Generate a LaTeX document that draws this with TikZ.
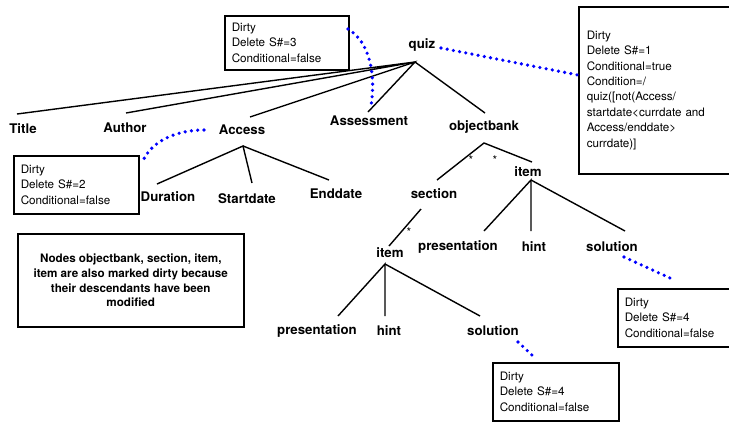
\documentclass[tikz,border=0pt]{standalone}
\usepackage{fontspec}
\setmainfont{TeX Gyre Heros}
\begin{document}
\begin{tikzpicture}[x=1bp,y=-1bp,
  lbl/.style={font=\fontsize{13.3}{16}\selectfont\bfseries, inner sep=0pt},
  edge/.style={line width=1.4bp, black},
  dirtybox/.style={draw, line width=1.5bp, anchor=north west, inner xsep=7bp, inner ysep=0pt, align=left, font=\fontsize{11.7}{15.5}\selectfont},
  notebox/.style={draw, line width=1.5bp, anchor=north west, inner sep=0pt, align=center, font=\fontsize{11.7}{15}\selectfont\bfseries},
  link/.style={blue, line width=3.6bp, line cap=round, dash pattern=on 0pt off 6.3bp},
  starlbl/.style={font=\fontsize{12}{12}\selectfont, inner sep=0pt}]
\clip (0,0) rectangle (729,423);
% labels
\node[lbl] (quiz) at (422,45) {quiz};
\node[lbl] (title) at (23,129) {Title};
\node[lbl] (author) at (125,128) {Author};
\node[lbl] (access) at (242,130) {Access};
\node[lbl] (assess) at (369,121) {Assessment};
\node[lbl] (objbank) at (484,127) {objectbank};
\node[lbl] (duration) at (168,197) {Duration};
\node[lbl] (startdate) at (247,199) {Startdate};
\node[lbl] (enddate) at (336,194) {Enddate};
\node[lbl] (section) at (434,194) {section};
\node[lbl] (itemR) at (528,172) {item};
\node[lbl] (itemL) at (390,253) {item};
\node[lbl] (presR) at (458,247) {presentation};
\node[lbl] (hintR) at (534,247) {hint};
\node[lbl] (solR) at (612,247) {solution};
\node[lbl] (presL) at (317,331) {presentation};
\node[lbl] (hintL) at (389,331) {hint};
\node[lbl] (solL) at (493,331) {solution};
% stars
\node[starlbl] (star1) at (471,160) {*};
\node[starlbl] (star2) at (495,160) {*};
\node[starlbl] (star3) at (409,232) {*};
% tree coordinates
\coordinate (quizA) at (415,62);
\coordinate (titleT) at (17,114);
\coordinate (authorT) at (126,113);
\coordinate (accessT) at (250,117);
\coordinate (assessT) at (368,112);
\coordinate (objbankT) at (485,113);
\coordinate (accessA) at (243,146);
\coordinate (durationT) at (157,184);
\coordinate (startdateT) at (252,183);
\coordinate (enddateT) at (329,180);
\coordinate (objbankA) at (484,143);
\coordinate (sectionT) at (437,180);
\coordinate (itemRT) at (532,162);
\coordinate (sectionB) at (421,209);
\coordinate (itemLT) at (389,246);
\coordinate (itemRA) at (531,180);
\coordinate (presRT) at (484,231);
\coordinate (hintRT) at (531,231);
\coordinate (solRT) at (625,231);
\coordinate (itemLA) at (385,264);
\coordinate (presLT) at (338,316);
\coordinate (hintLT) at (385,316);
\coordinate (solLT) at (480,316);
% tree edges
\draw[edge] (titleT) -- (quizA) -- (authorT);
\draw[edge] (accessT) -- (quizA) -- (assessT);
\draw[edge] (quizA) -- (objbankT);
\draw[edge] (durationT) -- (accessA) -- (startdateT);
\draw[edge] (accessA) -- (enddateT);
\draw[edge] (sectionT) -- (objbankA) -- (itemRT);
\draw[edge] (sectionB) -- (itemLT);
\draw[edge] (presRT) -- (itemRA) -- (hintRT);
\draw[edge] (itemRA) -- (solRT);
\draw[edge] (presLT) -- (itemLA) -- (hintLT);
\draw[edge] (itemLA) -- (solLT);
% boxes
\node[dirtybox, text width=110bp, minimum height=54bp] (box3) at (224,15) {Dirty\\Delete S\#=3\\Conditional=false};
\node[dirtybox, inner xsep=8bp, text width=150bp, minimum height=167bp] (box1) at (578,6) {Dirty\\Delete S\#=1\\Conditional=true\\Condition=/\\quiz([not(Access/\\startdate<currdate and\\Access/enddate>\\currdate)]};
\node[dirtybox, text width=111bp, minimum height=58bp] (box2) at (13,155) {Dirty\\Delete S\#=2\\Conditional=false};
\node[dirtybox, text width=120bp, minimum height=58bp] (box4) at (617,288) {Dirty\\Delete S\#=4\\Conditional=false};
\node[dirtybox, text width=112bp, minimum height=58bp] (box5) at (492,362) {Dirty\\Delete S\#=4\\Conditional=false};
\node[notebox, minimum width=226bp, minimum height=93bp] (note) at (17,233) {Nodes objectbank, section, item,\\item are also marked dirty because\\their descendants have been\\modified};
% dotted links
\coordinate (quizR) at (441,48);
\coordinate (box1L) at (578,75);
\coordinate (box3R) at (348,29);
\coordinate (assessU) at (371,106);
\coordinate (accessL) at (204,130);
\coordinate (box2R) at (142,163);
\coordinate (solRB) at (624,257);
\coordinate (box4T) at (670,278);
\coordinate (solLB) at (518,342);
\coordinate (box5T) at (533,356);
\draw[link] (quizR) -- (box1L);
\draw[link] (box3R) .. controls (370,42) and (376,75) .. (assessU);
\draw[link] (accessL) .. controls (175,130) and (150,142) .. (box2R);
\draw[link] (solRB) -- (box4T);
\draw[link] (solLB) -- (box5T);
\end{tikzpicture}
\end{document}
